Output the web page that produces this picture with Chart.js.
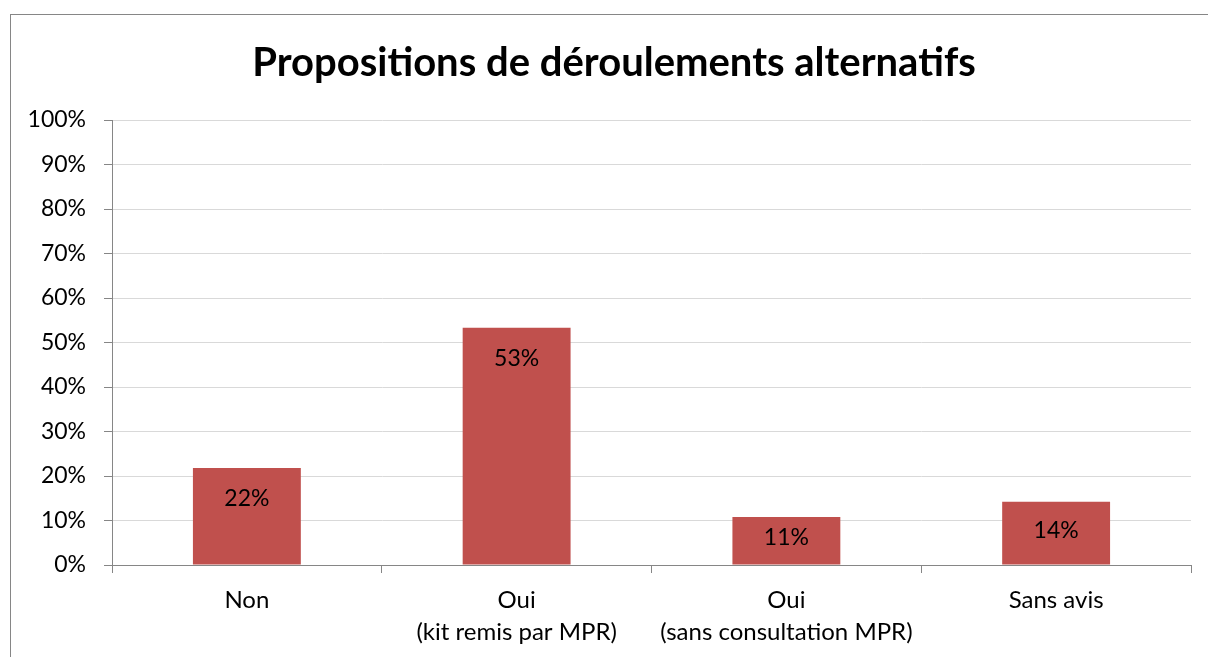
<!DOCTYPE html>
<html>
<head>
<meta charset="utf-8">
<title>Propositions de déroulements alternatifs</title>
<script src="https://cdn.jsdelivr.net/npm/chart.js@4"></script>
<style>
  html, body { margin: 0; padding: 0; background: #fff; }
  #wrap { position: relative; width: 1208px; height: 657px; }
</style>
</head>
<body>
<div id="wrap"><canvas id="chart"></canvas></div>
<script>
  // Data
  const CATEGORIES = [
    'Non',
    ['Oui', '(kit remis par MPR)'],
    ['Oui', '(sans consultation MPR)'],
    'Sans avis',
  ];
  const VALUES = [21.8, 53.3, 10.8, 14.2];
  const TITLE = 'Propositions de déroulements alternatifs';

  const BAR_COLOR = '#C0504D';
  const AXIS_COLOR = '#868686';
  const GRID_COLOR = '#D9D9D9';
  const FONT = "Lato, 'Open Sans', sans-serif";

  Chart.defaults.font.family = FONT;
  Chart.defaults.color = '#000';

  // Outer frame + title, like the Excel chart area
  const framePlugin = {
    id: 'frame',
    beforeDraw(chart) {
      const ctx = chart.ctx;
      ctx.save();
      ctx.fillStyle = '#fff';
      ctx.fillRect(0, 0, chart.width, chart.height);
      ctx.strokeStyle = AXIS_COLOR;
      ctx.lineWidth = 1;
      ctx.strokeRect(10.5, 14.5, 1400, 1000);
      ctx.fillStyle = '#000';
      ctx.font = 'bold 40px ' + FONT;
      ctx.textAlign = 'center';
      ctx.textBaseline = 'middle';
      ctx.fillText(TITLE, 614, 63);
      ctx.restore();
    },
  };

  // Value labels inside the top of each bar
  const labelPlugin = {
    id: 'barLabels',
    afterDatasetsDraw(chart) {
      const ctx = chart.ctx;
      const meta = chart.getDatasetMeta(0);
      ctx.save();
      ctx.fillStyle = '#000';
      ctx.font = '23px ' + FONT;
      ctx.textAlign = 'center';
      ctx.textBaseline = 'middle';
      meta.data.forEach((bar, i) => {
        const y = Math.min(bar.y + 31, (bar.y + bar.base) / 2 - 3);
        ctx.fillText(Math.round(VALUES[i]) + '%', bar.x, y);
      });
      ctx.restore();
    },
  };

  new Chart(document.getElementById('chart'), {
    type: 'bar',
    data: {
      labels: CATEGORIES,
      datasets: [{
        data: VALUES,
        backgroundColor: BAR_COLOR,
        borderWidth: 0,
        categoryPercentage: 1,
        barPercentage: 0.4,
      }],
    },
    options: {
      responsive: true,
      maintainAspectRatio: false,
      animation: false,
      layout: { padding: { top: 120, right: 17, left: 0, bottom: 0 } },
      plugins: {
        legend: { display: false },
        tooltip: { enabled: false },
        title: { display: false },
      },
      scales: {
        x: {
          offset: true,
          afterFit(scale) { scale.height = 92; },
          grid: {
            offset: true,
            drawOnChartArea: false,
            drawTicks: true,
            tickLength: 8,
            tickColor: AXIS_COLOR,
          },
          border: { color: AXIS_COLOR, width: 1 },
          ticks: {
            font: { size: 24, lineHeight: 1.33 },
            color: '#000',
            padding: 11,
            maxRotation: 0,
            autoSkip: false,
          },
        },
        y: {
          min: 0,
          max: 100,
          afterFit(scale) { scale.width = 112; },
          grid: {
            color: GRID_COLOR,
            tickColor: AXIS_COLOR,
            tickLength: 8,
            lineWidth: 1,
          },
          border: { color: AXIS_COLOR, width: 1 },
          ticks: {
            stepSize: 10,
            font: { size: 23 },
            color: '#000',
            padding: 18,
            callback: (v) => v + '%',
          },
        },
      },
    },
    plugins: [framePlugin, labelPlugin],
  });
</script>
</body>
</html>
